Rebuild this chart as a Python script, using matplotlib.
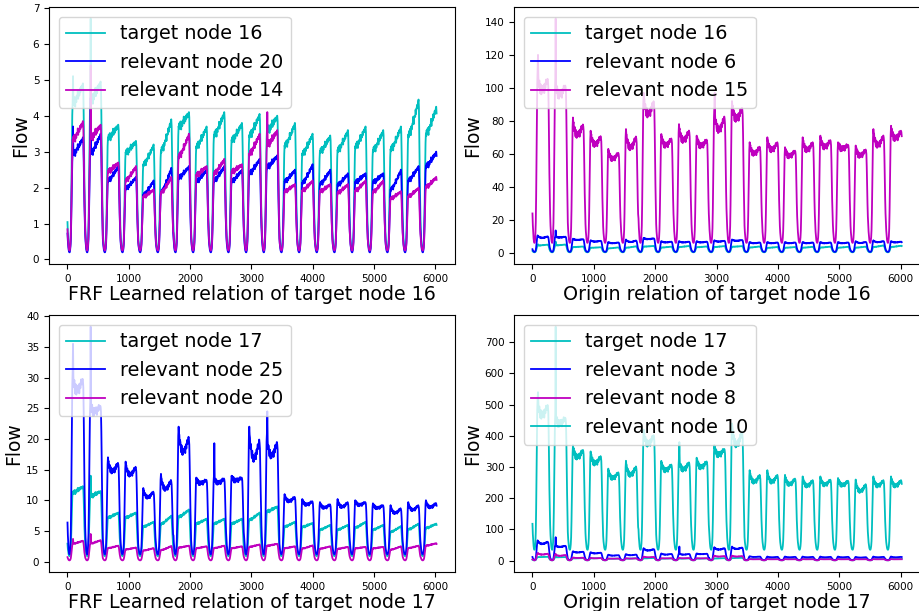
import numpy as np
import matplotlib
matplotlib.use('Agg')
import matplotlib.pyplot as plt

# 21 days, half-hour points (6 samples of 5 min each), x = sample index
n_days = 21
pts_per_day = 48
step = 6
n_pts = 20 * pts_per_day + 44   # last day stops on the plateau

# daily shape: 0 at night trough, 1 on the day plateau
base = np.array([0.2, 0.12, 0.07, 0.03, 0.01, 0.0, 0.0, 0.02, 0.06, 0.14, 0.3, 0.52, 0.75, 0.92,
                 1.0, 0.98, 1.02, 0.97, 1.0, 1.03, 0.98, 0.96, 1.01, 1.0, 0.97, 1.02, 0.99, 1.0,
                 1.03, 0.98, 1.0, 1.02, 0.97, 1.0, 1.01, 0.99, 1.0, 1.02, 1.0, 0.98, 1.0, 1.0,
                 1.0, 0.97, 0.85, 0.65, 0.45, 0.3])
# extra on top of the plateau: evening build-up
ramp_eve = np.array([0] * 10 + [0.05, 0.1, 0.15, 0.2, 0.22, 0.2, 0.25, 0.3, 0.22, 0.28,
                                0.35, 0.3, 0.38, 0.33, 0.42, 0.4, 0.5, 0.45, 0.55, 0.5,
                                0.6, 0.58, 0.68, 0.62, 0.75, 0.7, 0.8, 0.76, 0.88, 0.85,
                                0.9, 0.95, 1.0, 0.9, 0.6, 0.35, 0.2, 0.12])
# morning peak + evening bump
ramp_dbl = np.array([0] * 10 + [0.1, 0.35, 0.7, 0.95, 1.0, 0.85, 0.7, 0.55, 0.6, 0.45,
                                0.4, 0.35, 0.42, 0.3, 0.25, 0.3, 0.2, 0.28, 0.22, 0.3,
                                0.25, 0.35, 0.3, 0.4, 0.45, 0.38, 0.5, 0.55, 0.48, 0.6,
                                0.65, 0.7, 0.62, 0.55, 0.35, 0.2, 0.12, 0.08])

# per-day plateau (lo) and peak (hi) levels, per node
lo16 = [4.2, 4.3, 3.3, 2.9, 2.5, 2.8, 3.6, 3.0, 3.3, 3.2, 3.3, 3.5, 3.0, 2.8, 2.9, 2.9, 3.0, 2.9, 2.9, 3.2, 3.3]
hi16 = [4.9, 4.95, 3.75, 3.3, 3.2, 3.9, 4.1, 3.7, 4.1, 3.8, 4.05, 4.0, 3.8, 3.5, 3.45, 3.6, 3.7, 3.6, 3.7, 4.45, 4.25]
lo20 = [2.8, 2.8, 2.1, 1.9, 1.7, 1.7, 2.2, 2.1, 2.1, 2.1, 2.3, 2.5, 2.1, 2.0, 2.0, 2.0, 2.1, 2.1, 1.8, 2.1, 2.5]
hi20 = [3.4, 3.5, 2.6, 2.3, 2.2, 2.55, 2.6, 2.5, 2.6, 2.5, 2.8, 2.9, 2.5, 2.65, 2.5, 2.4, 2.4, 2.4, 2.5, 2.6, 3.0]
lo14 = [3.2, 3.3, 2.4, 2.1, 1.7, 1.75, 2.7, 2.3, 2.3, 2.4, 2.8, 3.1, 1.85, 1.85, 1.85, 1.8, 1.85, 1.8, 1.65, 1.7, 1.95]
hi14 = [3.85, 3.75, 2.7, 2.6, 1.95, 2.3, 3.5, 2.6, 2.8, 2.65, 3.5, 3.6, 2.1, 2.2, 2.1, 2.1, 2.2, 2.2, 1.9, 2.0, 2.3]
lo15 = [95, 93, 68, 63, 55, 60, 80, 63, 65, 63, 70, 78, 58, 60, 57, 60, 62, 62, 57, 62, 67]
hi15 = [110, 105, 82, 74, 63, 75, 97, 72, 78, 71, 88, 92, 67, 70, 64, 70, 71, 67, 65, 75, 77]
lo6 = [8.5, 9, 7.5, 6.5, 5.5, 6, 8, 6, 6, 6, 6.5, 7, 5.5, 5.5, 5.5, 5.5, 5.5, 5.5, 5.5, 6, 6]
hi6 = [10.5, 10, 8.5, 7.5, 6.5, 8, 9, 7, 7, 7, 7.5, 8, 6.5, 6.5, 6.5, 6.5, 6.5, 6.5, 7, 7.5, 7]
lo17 = [11, 10.5, 7, 7, 5.5, 5.8, 7, 6, 6, 6, 6.5, 8, 5.5, 5.5, 5, 5, 5.3, 5, 4.6, 5, 5.3]
hi17 = [12.3, 11.5, 8, 8, 6.5, 7.5, 8.5, 7, 7, 7, 8, 9, 6.5, 6.3, 6, 6, 6.5, 6, 5.8, 6.2, 6.2]
lo25 = [27, 24, 14, 13.5, 10, 11, 16.5, 12.5, 12.5, 13, 15, 16, 9.5, 9, 8.5, 8.5, 9, 8.5, 7.5, 8, 8.5]
hi25 = [31, 26, 17, 16.3, 12, 14.3, 22, 13.7, 14, 14, 22, 21, 11, 10.2, 9.7, 10.2, 10, 9.5, 9.2, 9.7, 10]
lo10 = [450, 430, 320, 300, 255, 260, 360, 280, 280, 290, 330, 350, 240, 240, 235, 230, 235, 235, 210, 230, 230]
hi10 = [520, 470, 370, 350, 295, 320, 420, 320, 330, 330, 370, 440, 290, 290, 275, 270, 270, 265, 260, 270, 270]
lo3 = [50, 42, 25, 22, 15, 16, 30, 18, 18, 20, 33, 35, 11, 10, 10, 10, 10, 10, 9, 10, 10]
hi3 = [65, 50, 30, 27, 19, 21, 40, 23, 23, 23, 43, 45, 14, 13, 13, 13, 13, 13, 12, 13, 13]
lo8 = [18, 14, 8, 7, 6, 6, 10, 7, 7, 7, 12, 12, 4, 4, 4, 4, 4, 4, 4, 4, 4]
hi8 = [24, 20, 10, 9, 7, 8, 13, 8, 9, 8, 16, 16, 5, 5, 5, 5, 5, 5, 5, 5, 5]


def build(trough, lo, hi, ramp, spike_days=(), spike_vals=()):
    days = []
    for d in range(n_days):
        days.append(trough + (lo[d] - trough) * base + (hi[d] - lo[d]) * ramp)
    y = np.concatenate(days)
    # morning spikes in the first days
    for d, v in zip(spike_days, spike_vals):
        y[d * pts_per_day + 15] = v
    return y[:n_pts]


x = np.arange(n_pts) * step

node16 = build(0.25, lo16, hi16, ramp_eve, [0, 1], [5.1, 6.7])
node20 = build(0.2, lo20, hi20, ramp_eve, [0, 1], [3.7, 4.5])
node14 = build(0.25, lo14, hi14, ramp_eve, [1, 11], [5.4, 4.1])
node15 = build(6, lo15, hi15, ramp_dbl, [0, 1, 10], [120, 142, 97])
node6 = build(0.5, lo6, hi6, ramp_dbl, [1], [13.5])
node17 = build(0.9, lo17, hi17, ramp_eve, [1], [14])
node25 = build(1.2, lo25, hi25, ramp_dbl, [0, 1, 8, 11], [35.5, 38.3, 19.3, 24.5])
node10 = build(35, lo10, hi10, ramp_dbl, [0, 1, 8, 11], [540, 750, 380, 430])
node3 = build(2, lo3, hi3, ramp_dbl, [1, 8], [75, 45])
node8 = build(1, lo8, hi8, ramp_dbl, [0, 1], [25, 22])

panels = [
    ('FRF Learned relation of target node 16',
     [(node16, 'c', 'target node 16'), (node20, 'b', 'relevant node 20'), (node14, 'm', 'relevant node 14')]),
    ('Origin relation of target node 16',
     [(node16, 'c', 'target node 16'), (node6, 'b', 'relevant node 6'), (node15, 'm', 'relevant node 15')]),
    ('FRF Learned relation of target node 17',
     [(node17, 'c', 'target node 17'), (node25, 'b', 'relevant node 25'), (node20, 'm', 'relevant node 20')]),
    ('Origin relation of target node 17',
     [(node17, 'c', 'target node 17'), (node3, 'b', 'relevant node 3'), (node8, 'm', 'relevant node 8'),
      (node10, 'c', 'relevant node 10')]),
]

positions = [[0.0533, 0.568, 0.4413, 0.4206],
             [0.5587, 0.568, 0.4415, 0.4206],
             [0.0533, 0.0638, 0.4413, 0.4206],
             [0.5587, 0.0638, 0.4415, 0.4206]]

fig = plt.figure(figsize=(9.2, 6.11), dpi=100)
for pos, (xlabel, lines) in zip(positions, panels):
    ax = fig.add_axes(pos)
    for y, col, lab in lines:
        ax.plot(x, y, color=col, lw=1.3, label=lab)
    ax.set_xlabel(xlabel, fontsize=13.7, labelpad=1)
    ax.set_ylabel('Flow', fontsize=13.5, labelpad=2)
    ax.tick_params(labelsize=7.5)
    ax.legend(loc='upper left', fontsize=13.8)

fig.savefig('out.png', dpi=100)
